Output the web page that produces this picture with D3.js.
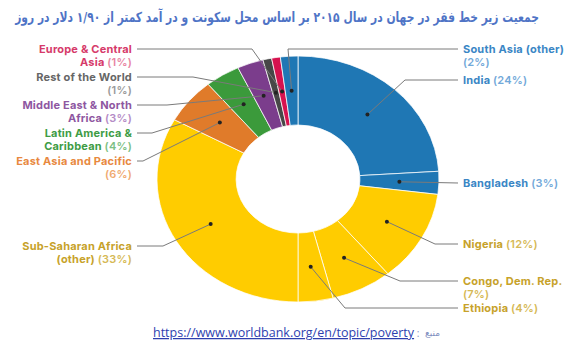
<!DOCTYPE html>
<html><head><meta charset="utf-8">
<script src="https://cdn.jsdelivr.net/npm/d3@7"></script>
<style>
html,body{margin:0;padding:0;background:#fff;}
svg{display:block;}
</style></head>
<body>
<svg id="chart" width="586" height="353"></svg>
<script>
// ---- data ----
const categories = ["India","Bangladesh","Nigeria","Congo, Dem. Rep.","Ethiopia","Sub-Saharan Africa (other)","East Asia and Pacific","Latin America & Caribbean","Middle East & North Africa","Rest of the World","Europe & Central Asia","South Asia (other)"];
const values = [24,3,12,7,4,33,6,4,3,1,1,2];
const labelLines = ["India","Bangladesh","Nigeria","Congo, Dem. Rep.\n","Ethiopia","Sub-Saharan Africa\n(other)","East Asia and Pacific\n","Latin America &\nCaribbean","Middle East & North\nAfrica","Rest of the World\n","Europe & Central\nAsia","South Asia (other)\n"];
const sliceColors = ["#1F77B4","#1F77B4","#FFCC00","#FFCC00","#FFCC00","#FFCC00","#E07B2A","#3B9A3B","#7B3D8C","#474747","#D6124F","#1F77B4"];
const nameColors = ["#3A86C5","#3A86C5","#C7A22A","#C7A22A","#C7A22A","#C7A22A","#E8893F","#3E9C45","#8E57A1","#666666","#D63A6A","#3A86C5"];
const pctColors = ["#72A9D9","#72A9D9","#D6B955","#D6B955","#D6B955","#D6B955","#F0AA70","#7DBF84","#B58CC6","#9A9A9A","#E884A2","#72A9D9"];
const title = "جمعیت زیر خط فقر در جهان در سال ۲۰۱۵ بر اساس محل سکونت و در آمد کمتر از ۱/۹۰ دلار در روز";
const sourceUrl = "https://www.worldbank.org/en/topic/poverty";
const sourceLabel = "منبع";

// ---- label layout (positions only) ----
const labelLayout = [
  {side:"R", y:80,  ex:405},
  {side:"R", y:183, ex:null},
  {side:"R", y:244, ex:435},
  {side:"R", y:281, ex:400},
  {side:"R", y:308, ex:345},
  {side:"L", y:246, ex:163},
  {side:"L", y:161, ex:143},
  {side:"L", y:133, ex:152},
  {side:"L", y:105, ex:167},
  {side:"L", y:77,  ex:193},
  {side:"L", y:49,  ex:252},
  {side:"R", y:49,  ex:288}
];

const svg = d3.select("#chart");
const cx = 298, cy = 179, R = 123, r0 = 54, sx = 141/123;
const rightLineEnd = 458, leftLineEnd = 137, rightTextX = 463, leftTextX = 132;

// title: right edge 539, width ~524
const tg = svg.append("g");
const tt = tg.append("text")
  .attr("x", 0).attr("y", 0)
  .attr("direction","rtl")
  .attr("text-anchor","start")
  .attr("font-family","DejaVu Sans, sans-serif")
  .attr("font-weight","bold")
  .attr("font-size", 14)
  .attr("fill","#4F74C6")
  .text(title);
const tw = tt.node().getComputedTextLength();
tg.attr("transform", `translate(539,22) scale(${524/tw},1)`);

const pie = d3.pie().value(d => d).sort(null);
const arcs = pie(values);
const arc = d3.arc().innerRadius(r0).outerRadius(R);
const mid = d3.arc().innerRadius((R + r0)/2).outerRadius((R + r0)/2);

const g = svg.append("g").attr("transform", `translate(${cx},${cy}) scale(${sx},1)`);
g.selectAll("path").data(arcs).join("path")
  .attr("d", arc)
  .attr("fill", (d,i) => sliceColors[i])
  .attr("stroke", "rgba(255,255,255,0.75)")
  .attr("stroke-width", 1)
  .attr("vector-effect","non-scaling-stroke");

const total = d3.sum(values);
const font = "Inter, Roboto, sans-serif";

arcs.forEach((a, i) => {
  const c = mid.centroid(a);
  const px = cx + c[0]*sx, py = cy + c[1];
  const L = labelLayout[i];
  const endX = L.side === "R" ? rightLineEnd : leftLineEnd;
  const pts = [[px,py]];
  if (L.ex !== null) pts.push([L.ex, L.y]);
  pts.push([endX, L.y]);
  svg.append("path")
    .attr("d", d3.line()(pts))
    .attr("fill","none").attr("stroke","#7a7a7a").attr("stroke-width",1);
  svg.append("circle").attr("cx",px).attr("cy",py).attr("r",2).attr("fill","#222");

  const lines = labelLines[i].split("\n");
  const pct = `(${Math.round(values[i]/total*100)}%)`;
  const x = L.side === "R" ? rightTextX : leftTextX;
  lines.forEach((ln, k) => {
    const last = k === lines.length - 1;
    const t = svg.append("text")
      .attr("x", x).attr("y", L.y + 4 + k*12.5)
      .attr("font-family", font).attr("font-size", 11).attr("font-weight", 700)
      .attr("letter-spacing", 0.2)
      .attr("text-anchor", L.side === "R" ? "start" : "end");
    if (ln) t.append("tspan").attr("fill", nameColors[i]).text(ln + (last ? " " : ""));
    if (last) t.append("tspan").attr("fill", pctColors[i]).attr("font-weight", 600).text(pct);
  });
});

// source
const src = svg.append("text")
  .attr("x", 153).attr("y", 337)
  .attr("font-family","Open Sans, sans-serif").attr("font-size", 12.5)
  .attr("fill","#2E3FAF");
src.append("tspan").attr("text-decoration","underline").text(sourceUrl);
src.append("tspan").attr("fill","#7F8FBF").attr("font-size",10).text(" :");
svg.append("text").attr("x", 440).attr("y", 336)
  .attr("direction","rtl").attr("text-anchor","start")
  .attr("font-family","DejaVu Sans, sans-serif").attr("font-size", 9)
  .attr("fill","#7F8FBF").text(sourceLabel);
</script>
</body></html>
